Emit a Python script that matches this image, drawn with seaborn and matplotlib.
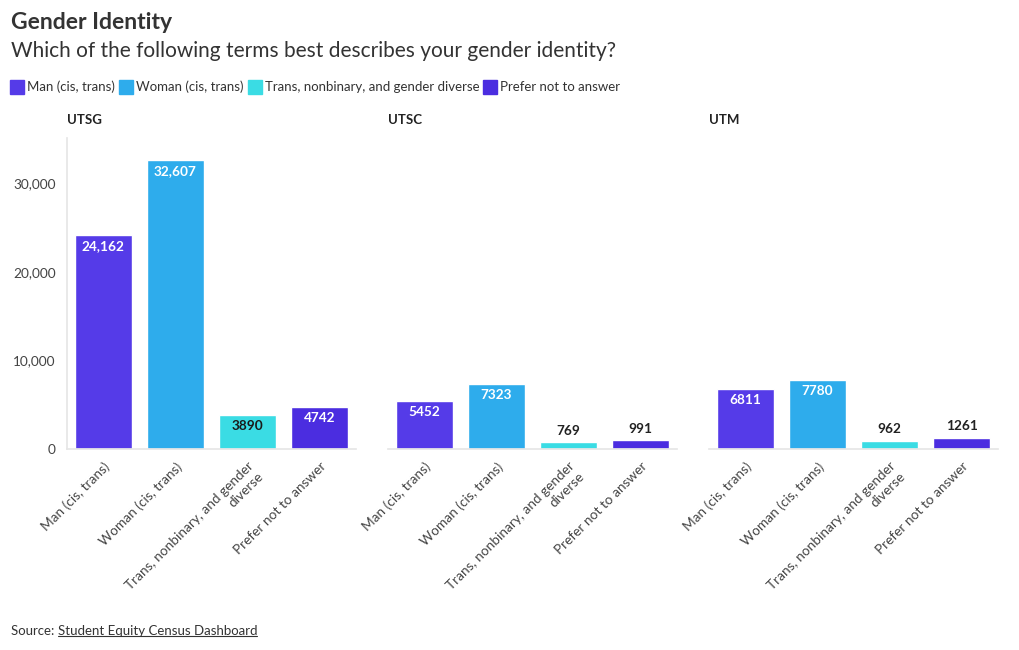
import pandas as pd
import matplotlib.pyplot as plt
import seaborn as sns
from matplotlib.lines import Line2D
from matplotlib.ticker import FuncFormatter

# data
campuses = ["UTSG", "UTSC", "UTM"]
categories = ["Man (cis, trans)", "Woman (cis, trans)",
              "Trans, nonbinary, and gender diverse", "Prefer not to answer"]
tick_labels = ["Man (cis, trans)", "Woman (cis, trans)",
               "Trans, nonbinary, and gender\ndiverse", "Prefer not to answer"]
utsg = [24162, 32607, 3890, 4742]
utsc = [5452, 7323, 769, 991]
utm = [6811, 7780, 962, 1261]
colors = ["#553be8", "#2eacec", "#3adce4", "#4b2de0"]

sns.set_theme(style="white")
plt.rcParams["font.family"] = ["Lato", "DejaVu Sans"]

fig = plt.figure(figsize=(10.2, 6.5), dpi=100)

lefts = [0.0657, 0.3804, 0.6951]
w = 0.283
bottom = 0.309
height = 0.479

values = {"UTSG": utsg, "UTSC": utsc, "UTM": utm}
for i, camp in enumerate(campuses):
    ax = fig.add_axes([lefts[i], bottom, w, height])
    df = pd.DataFrame({"cat": categories, "n": values[camp]})
    sns.barplot(data=df, x="cat", y="n", hue="cat", palette=colors,
                dodge=False, width=0.79, legend=False, ax=ax, saturation=1)
    ax.set_ylim(0, 35100)
    ax.set_xlim(-0.5, 3.5)
    ax.set_xlabel("")
    ax.set_ylabel("")
    ax.set_xticks(range(4))
    ax.set_xticklabels(tick_labels, rotation=45, ha="right",
                       rotation_mode="anchor", fontsize=9.8, color="#444444",
                       multialignment="right")
    ax.tick_params(axis="x", length=4, color="#dddddd", pad=4)
    for s in ["top", "right"]:
        ax.spines[s].set_visible(False)
    ax.spines["bottom"].set_color("#e6e6e6")
    if i == 0:
        ax.spines["left"].set_color("#e6e6e6")
        ax.set_yticks([0, 10000, 20000, 30000])
        ax.yaxis.set_major_formatter(FuncFormatter(lambda v, p: f"{int(v):,}"))
        ax.tick_params(axis="y", labelsize=9.8, labelcolor="#444444", length=0, pad=8)
    else:
        ax.spines["left"].set_visible(False)
        ax.set_yticks([])
    ax.set_title(camp, loc="left", fontsize=9.5, fontweight="bold",
                 color="#222222", pad=10, x=0.0)
    for j, v in enumerate(values[camp]):
        txt = f"{v:,}" if v >= 10000 else str(v)
        if v > 2000:
            col = "#1a1a1a" if j == 2 else "white"
            ax.annotate(txt, (j, v), xytext=(0, -8), textcoords="offset points",
                        ha="center", va="center", fontsize=9.8, fontweight="bold", color=col)
        else:
            ax.annotate(txt, (j, v), xytext=(0, 8.5), textcoords="offset points",
                        ha="center", va="center", fontsize=9.8, fontweight="bold", color="#222222")

fig.text(0.0108, 0.965, "Gender Identity", fontsize=16.5, fontweight="bold",
         color="#333333", va="center")
fig.text(0.0108, 0.922, "Which of the following terms best describes your gender identity?",
         fontsize=15, color="#333333", va="center")

handles = [Line2D([0], [0], marker="s", linestyle="", markersize=9.5,
                  markerfacecolor=c, markeredgecolor=c) for c in colors]
fig.legend(handles, categories, loc="center left", bbox_to_anchor=(0.0, 0.866),
           ncol=4, frameon=False, fontsize=9.5, handletextpad=0.35,
           columnspacing=0.45, handlelength=0.8, labelcolor="#333333")

src = fig.text(0.0108, 0.029, "Source: ", fontsize=9.5, color="#333333", va="center")
fig.canvas.draw()
bb = src.get_window_extent().transformed(fig.transFigure.inverted())
link = fig.text(bb.x1, 0.029, "Student Equity Census Dashboard", fontsize=9.5,
                color="#333333", va="center")
fig.canvas.draw()
lb = link.get_window_extent().transformed(fig.transFigure.inverted())
fig.add_artist(Line2D([lb.x0, lb.x1], [lb.y0 + 0.002, lb.y0 + 0.002],
                      color="#333333", lw=0.8, transform=fig.transFigure))

fig.savefig("out.png", dpi=100)
